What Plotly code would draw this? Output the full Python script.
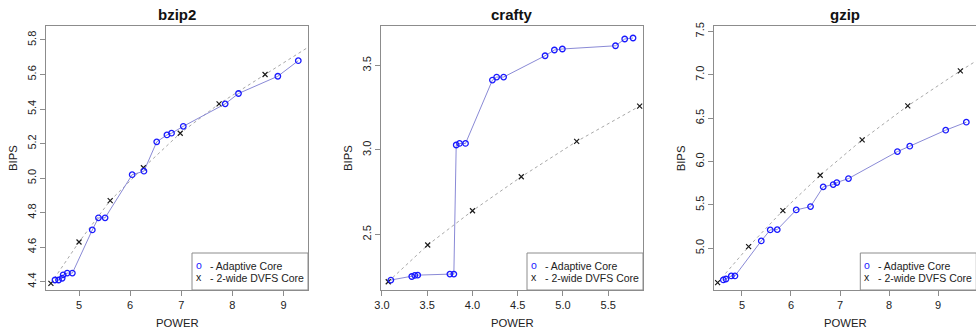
import plotly.graph_objects as go

W, H = 976, 331

# ---------------- data ----------------
titles = ["bzip2", "crafty", "gzip"]

bzip2_adapt_power = [4.53, 4.60, 4.67, 4.69, 4.77, 4.87, 5.26, 5.38, 5.51, 6.04, 6.27, 6.52, 6.72, 6.81, 7.04, 7.86, 8.12, 8.89, 9.29]
bzip2_adapt_bips = [4.41, 4.41, 4.42, 4.44, 4.45, 4.45, 4.70, 4.77, 4.77, 5.02, 5.04, 5.21, 5.25, 5.26, 5.30, 5.43, 5.49, 5.59, 5.68]
bzip2_dvfs_power = [4.45, 5.00, 5.61, 6.26, 6.98, 7.74, 8.64, 9.60]
bzip2_dvfs_bips = [4.39, 4.63, 4.87, 5.06, 5.26, 5.43, 5.60, 5.78]

crafty_adapt_power = [3.099, 3.330, 3.363, 3.396, 3.751, 3.795, 3.821, 3.858, 3.924, 4.221, 4.268, 4.345, 4.803, 4.906, 4.994, 5.581, 5.683, 5.775]
crafty_adapt_bips = [2.230, 2.251, 2.257, 2.259, 2.265, 2.265, 3.029, 3.038, 3.038, 3.413, 3.431, 3.431, 3.557, 3.591, 3.597, 3.616, 3.656, 3.662]
crafty_dvfs_power = [3.070, 3.506, 4.001, 4.540, 5.152, 5.848]
crafty_dvfs_bips = [2.220, 2.437, 2.640, 2.841, 3.050, 3.259]

gzip_adapt_power = [4.620, 4.674, 4.783, 4.857, 5.394, 5.577, 5.720, 6.107, 6.399, 6.657, 6.861, 6.935, 7.173, 8.171, 8.423, 9.156, 9.577]
gzip_adapt_bips = [4.635, 4.646, 4.681, 4.681, 5.085, 5.212, 5.215, 5.442, 5.481, 5.708, 5.735, 5.758, 5.804, 6.115, 6.177, 6.362, 6.454]
gzip_dvfs_power = [4.504, 5.136, 5.835, 6.596, 7.452, 8.382, 9.455, 10.60]
gzip_dvfs_bips = [4.604, 5.019, 5.435, 5.842, 6.250, 6.642, 7.046, 7.45]

x_tickvals = [[5, 6, 7, 8, 9], [3.0, 3.5, 4.0, 4.5, 5.0, 5.5], [5, 6, 7, 8, 9]]
x_ticktext = [["5", "6", "7", "8", "9"], ["3.0", "3.5", "4.0", "4.5", "5.0", "5.5"], ["5", "6", "7", "8", "9"]]
y_tickvals = [[4.4, 4.6, 4.8, 5.0, 5.2, 5.4, 5.6, 5.8], [2.5, 3.0, 3.5], [5.0, 5.5, 6.0, 6.5, 7.0, 7.5]]
y_ticktext = [["4.4", "4.6", "4.8", "5.0", "5.2", "5.4", "5.6", "5.8"], ["2.5", "3.0", "3.5"], ["5.0", "5.5", "6.0", "6.5", "7.0", "7.5"]]

legend_labels = ["- Adaptive Core", "- 2-wide DVFS Core"]
x_title = "POWER"
y_title = "BIPS"

# ---------------- layout geometry ----------------
x_ranges = [[4.354, 9.48], [2.99, 5.885], [4.436, 9.774]]
y_ranges = [[4.352, 5.881], [2.171, 3.733], [4.519, 7.563]]
box_left_px = [46, 381, 714.3]
box_w_px = 262
box_top_px, box_bot_px = 26, 290

FONT = "Liberation Sans, Arial, Helvetica, sans-serif"
BOXC = "#8c8c8c"
TXT = "#222222"

def px_x(p):
    return p / W

def px_y(p):
    return 1 - p / H

data = [
    (bzip2_adapt_power, bzip2_adapt_bips, bzip2_dvfs_power, bzip2_dvfs_bips),
    (crafty_adapt_power, crafty_adapt_bips, crafty_dvfs_power, crafty_dvfs_bips),
    (gzip_adapt_power, gzip_adapt_bips, gzip_dvfs_power, gzip_dvfs_bips),
]

fig = go.Figure()
annotations = []
shapes = []

for i in range(3):
    sfx = "" if i == 0 else str(i + 1)
    xa, ya = "x" + sfx, "y" + sfx
    ap, ab, dp, db = data[i]
    fig.add_trace(go.Scatter(
        x=dp, y=db, mode="lines+markers", xaxis=xa, yaxis=ya,
        line=dict(color="#a8a8a8", width=1, dash="dot"),
        marker=dict(symbol="x-thin-open", size=5, color="#1a1a1a", line=dict(width=1.2, color="#1a1a1a")),
        showlegend=False, cliponaxis=True))
    fig.add_trace(go.Scatter(
        x=ap, y=ab, mode="lines+markers", xaxis=xa, yaxis=ya,
        line=dict(color="#8a8ad6", width=1),
        marker=dict(symbol="circle-open", size=5.5, color="#1a1aff", line=dict(width=1.3, color="#1a1aff")),
        showlegend=False, cliponaxis=True))

    left = box_left_px[i]
    right = min(left + box_w_px, W)
    xdom = [px_x(left), min(px_x(left + box_w_px), 1.0)]
    ydom = [px_y(box_bot_px), px_y(box_top_px)]
    axis_common = dict(showline=True, mirror=True, linecolor=BOXC, linewidth=1,
                       showgrid=False, zeroline=False, ticks="outside", ticklen=5,
                       tickcolor=BOXC, tickwidth=1, automargin=False,
                       tickfont=dict(family=FONT, size=11, color=TXT))
    fig.layout["xaxis" + sfx] = dict(domain=xdom, range=x_ranges[i], anchor=ya,
                                     tickvals=x_tickvals[i], ticktext=x_ticktext[i], **axis_common)
    fig.layout["yaxis" + sfx] = dict(domain=ydom, range=y_ranges[i], anchor=xa,
                                     tickvals=y_tickvals[i], ticktext=y_ticktext[i], tickangle=-90,
                                     **axis_common)

    cx = (left + left + box_w_px) / 2
    annotations.append(dict(text="<b>" + titles[i] + "</b>", x=px_x(cx), y=px_y(15),
                            xref="paper", yref="paper", showarrow=False,
                            font=dict(family=FONT, size=15, color="#111111"),
                            xanchor="center", yanchor="middle"))
    annotations.append(dict(text=x_title, x=px_x(cx), y=px_y(322.5),
                            xref="paper", yref="paper", showarrow=False,
                            font=dict(family=FONT, size=11.3, color=TXT),
                            xanchor="center", yanchor="middle"))
    annotations.append(dict(text=y_title, x=px_x(left - 33), y=px_y(158),
                            xref="paper", yref="paper", showarrow=False, textangle=-90,
                            font=dict(family=FONT, size=11.3, color=TXT),
                            xanchor="center", yanchor="middle"))

    # legend box
    lg_left = left + box_w_px - 116
    lg_top = box_bot_px - 37
    shapes.append(dict(type="rect", xref="paper", yref="paper",
                       x0=px_x(lg_left), x1=px_x(left + box_w_px), y0=px_y(box_bot_px), y1=px_y(lg_top),
                       line=dict(color=BOXC, width=1), fillcolor="rgba(0,0,0,0)"))
    for j, (sym, col) in enumerate([("o", "#1a1aff"), ("x", "#1a1a1a")]):
        yy = 265.7 + j * 12.6
        annotations.append(dict(text=sym, x=px_x(lg_left + 7), y=px_y(yy - 1),
                                xref="paper", yref="paper", showarrow=False,
                                font=dict(family=FONT, size=10.5, color=col),
                                xanchor="center", yanchor="middle"))
        annotations.append(dict(text=legend_labels[j], x=px_x(lg_left + 16), y=px_y(yy),
                                xref="paper", yref="paper", showarrow=False,
                                font=dict(family=FONT, size=10.5, color=TXT),
                                xanchor="left", yanchor="middle"))

fig.update_layout(width=W, height=H, margin=dict(l=0, r=0, t=0, b=0),
                  paper_bgcolor="white", plot_bgcolor="white",
                  annotations=annotations, shapes=shapes, showlegend=False)

fig.write_html("out.html")
